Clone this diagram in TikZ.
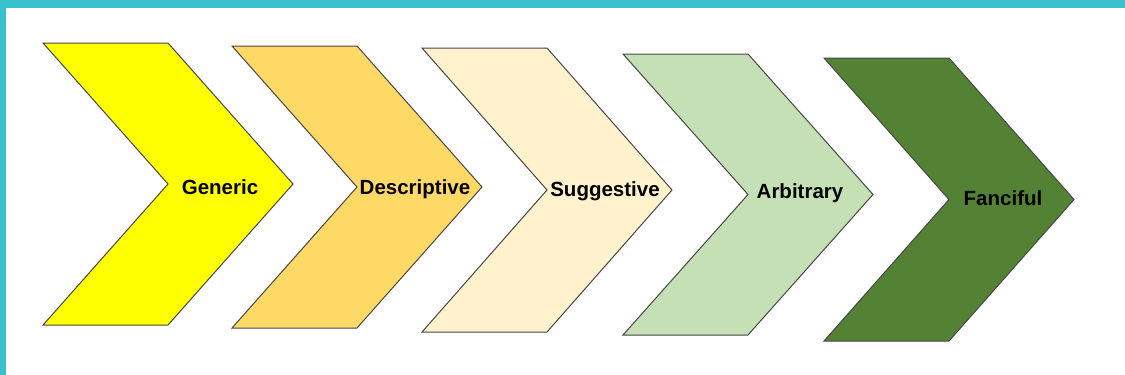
\documentclass[tikz,border=0pt]{standalone}
\usepackage{fontspec}
\setmainfont{Liberation Sans}
\definecolor{frameteal}{HTML}{38C1CD}
\definecolor{chevA}{HTML}{FFFF00}
\definecolor{chevB}{HTML}{FFD966}
\definecolor{chevC}{HTML}{FFF2CC}
\definecolor{chevD}{HTML}{C5E0B4}
\definecolor{chevE}{HTML}{548235}
\begin{document}
\begin{tikzpicture}[x=1pt,y=-1pt,
  chev/.style={draw=black!72, line width=1pt, line join=miter},
  lbl/.style={font=\bfseries\fontsize{20.5}{24}\selectfont, anchor=base, inner sep=0pt}]
  \useasboundingbox (0,0) rectangle (1125,375);
  \fill[white] (0,0) rectangle (1125,375);
  % frame strips along the top and left edges
  \fill[frameteal] (0,0) rectangle (1125,8);
  \fill[frameteal] (0,0) rectangle (6,375);
  % chevrons: left edge, top, bottom, fill, label position, label
  \foreach \name/\L/\T/\B/\col/\tx/\ty/\txt in {
      generic/43/43/325/chevA/220/194/Generic,
      descriptive/232/46/328/chevB/415/194/Descriptive,
      suggestive/422/48/332/chevC/605/196/Suggestive,
      arbitrary/623/54/335/chevD/800/198/Arbitrary,
      fanciful/824/58/341/chevE/1003/205/Fanciful}{
    \pgfmathsetmacro{\M}{(\T+\B)/2}
    \draw[chev, fill=\col] (\L,\T) -- ({\L+125},\T) -- ({\L+250},\M)
      -- ({\L+125},\B) -- (\L,\B) -- ({\L+125},\M) -- cycle;
    \node[lbl] (\name) at (\tx,\ty) {\txt};
  }
\end{tikzpicture}
\end{document}
